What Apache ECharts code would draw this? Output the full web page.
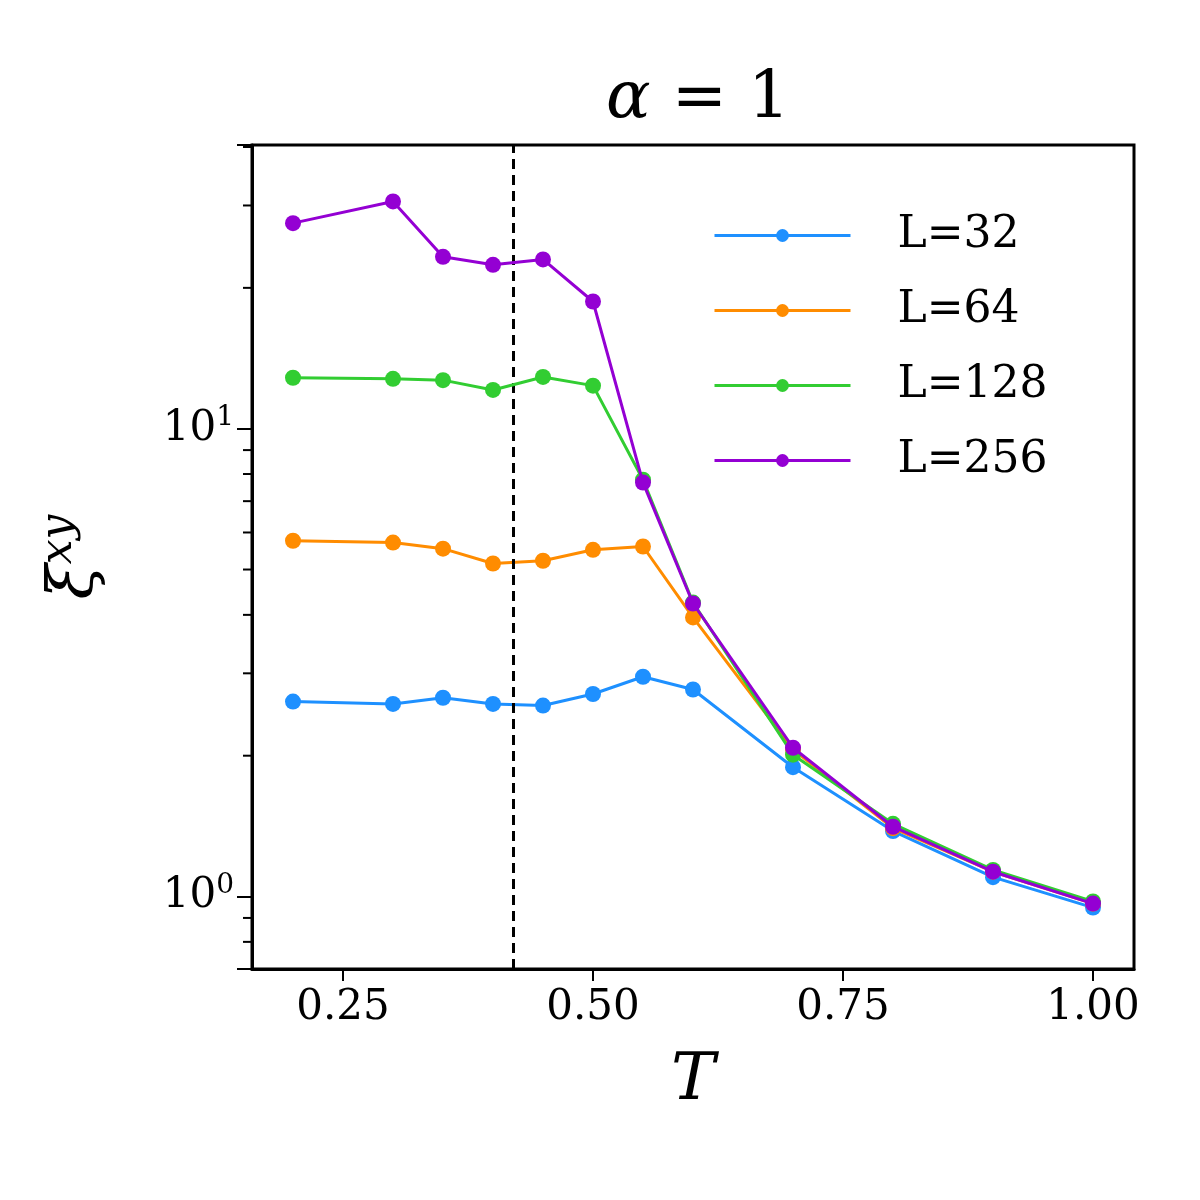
<!DOCTYPE html>
<html>
<head>
<meta charset="utf-8">
<script src="https://cdn.jsdelivr.net/npm/echarts@6/dist/echarts.min.js"></script>
<style>html,body{margin:0;background:#fff}#c{width:1200px;height:1200px}</style>
</head>
<body>
<div id="c"></div>
<script>
// data
var temps = [0.2, 0.3, 0.35, 0.4, 0.45, 0.5, 0.55, 0.6, 0.7, 0.8, 0.9, 1.0];
var xi32  = [2.61, 2.58, 2.66, 2.58, 2.56, 2.71, 2.95, 2.77, 1.89, 1.38, 1.10, 0.947];
var xi64  = [5.76, 5.71, 5.54, 5.15, 5.22, 5.51, 5.60, 3.95, 2.06, 1.40, 1.13, 0.966];
var xi128 = [12.85, 12.78, 12.7, 12.1, 12.9, 12.36, 7.78, 4.25, 2.01, 1.43, 1.14, 0.976];
var xi256 = [27.5, 30.6, 23.3, 22.4, 23.0, 18.7, 7.67, 4.23, 2.08, 1.41, 1.13, 0.966];
var seriesNames = ['L=32', 'L=64', 'L=128', 'L=256'];
var seriesColors = ['#1E90FF', '#FF8C00', '#32CD32', '#9400D3'];
var xTicks = [0.25, 0.5, 0.75, 1.0];
var minorY = [0.7, 0.8, 0.9, 2, 3, 4, 5, 6, 7, 8, 9, 20, 30, 40];
var Tc = 0.419;

var FONT = '"DejaVu Serif", "Liberation Serif", serif';
var chart = echarts.init(document.getElementById('c'));

function pair(ys) { return temps.map(function (t, i) { return [t, ys[i]]; }); }

var allY = [xi32, xi64, xi128, xi256];
var series = allY.map(function (ys, k) {
    var s = {
        name: seriesNames[k], type: 'line', data: pair(ys),
        symbol: 'circle', symbolSize: 16,
        lineStyle: { width: 3, color: seriesColors[k] },
        itemStyle: { color: seriesColors[k] },
        z: 3 + k
    };
    if (k === 0) {
        s.markLine = {
            silent: true, symbol: 'none', label: { show: false },
            lineStyle: { color: '#000', type: [10, 6], width: 3 },
            data: [{ xAxis: Tc }]
        };
    }
    return s;
});

// minor ticks on the log axis
series.push({
    type: 'custom', silent: true, clip: false,
    data: minorY.map(function (v) { return [0.159, v]; }),
    renderItem: function (params, api) {
        var p = api.coord([api.value(0), api.value(1)]);
        return { type: 'line', shape: { x1: p[0] - 9, y1: p[1], x2: p[0], y2: p[1] },
                 style: { stroke: '#000', lineWidth: 2 } };
    }
});

chart.setOption({
    animation: false,
    title: {
        text: '{a|α} = 1', left: 693, top: 62, textAlign: 'center',
        textStyle: { fontFamily: FONT, fontSize: 66, fontWeight: 'normal', color: '#000',
            rich: { a: { fontFamily: FONT, fontSize: 66, fontStyle: 'italic' } } }
    },
    grid: { left: 252, right: 66, top: 145, bottom: 231, show: true,
            borderColor: '#000', borderWidth: 3 },
    legend: {
        data: seriesNames, orient: 'vertical', left: 708, top: 205,
        itemWidth: 136, itemHeight: 16, itemGap: 24,
        lineStyle: { width: 3 },
        textStyle: { fontFamily: FONT, fontSize: 44, lineHeight: 51, color: '#000', padding: [0, 0, 0, 42] }
    },
    xAxis: {
        type: 'value', min: 0.159, max: 1.041,
        name: 'T', nameLocation: 'middle', nameGap: 80,
        nameTextStyle: { fontFamily: FONT, fontSize: 66, fontStyle: 'italic', color: '#000' },
        axisLine: { lineStyle: { color: '#000', width: 3 } },
        axisTick: { customValues: xTicks, length: 12, lineStyle: { width: 2, color: '#000' } },
        axisLabel: { customValues: xTicks, margin: 18, fontFamily: FONT, fontSize: 42, color: '#000',
            formatter: function (v) { return v.toFixed(2); } },
        splitLine: { show: false }
    },
    yAxis: {
        type: 'log', logBase: 10, min: 0.70, max: 40.4,
        name: '{x|ξ}{s|xy}', nameLocation: 'middle', nameGap: 140, nameRotate: 90,
        nameTextStyle: { color: '#000', rich: {
            x: { fontFamily: FONT, fontSize: 64, fontStyle: 'italic' },
            s: { fontFamily: FONT, fontSize: 44, fontStyle: 'italic', verticalAlign: 'top', padding: [0, 0, 30, 0] } } },
        axisLine: { show: true, lineStyle: { color: '#000', width: 3 } },
        axisTick: { length: 15, lineStyle: { width: 2, color: '#000' } },
        axisLabel: { margin: 18, color: '#000',
            formatter: function (v) {
                var e = Math.round(Math.log10(v));
                return Math.abs(Math.log10(v) - e) < 1e-6 ? '{b|10}{e|' + e + '}' : '';
            },
            rich: { b: { fontFamily: FONT, fontSize: 42 },
                    e: { fontFamily: FONT, fontSize: 28, verticalAlign: 'top', padding: [0, 0, 22, 0] } } },
        splitLine: { show: false }
    },
    series: series
});
</script>
</body>
</html>
